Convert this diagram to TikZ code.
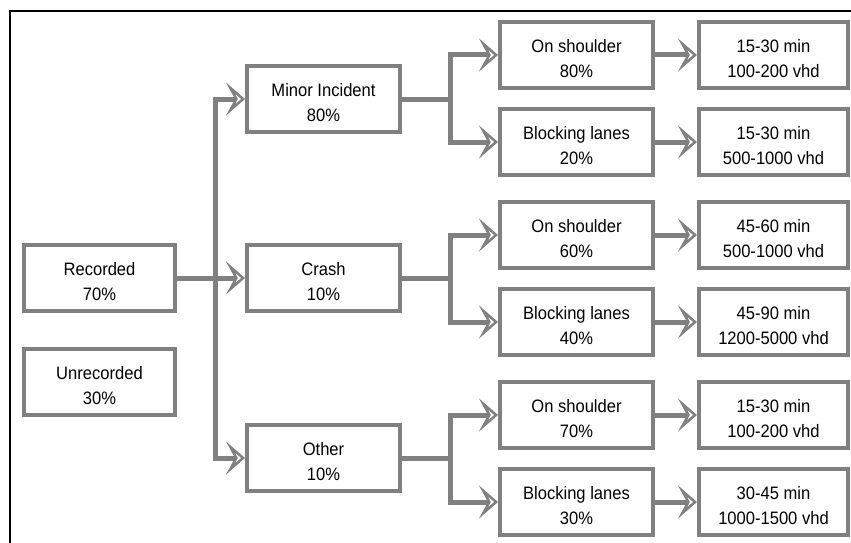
\documentclass[tikz,border=0pt]{standalone}
\usepackage{fontspec}
\setmainfont{Liberation Sans}[FakeStretch=0.92]
\usetikzlibrary{arrows.meta}
\definecolor{boxgray}{HTML}{808080}
\newcommand\twoline[2]{\smash{\raisebox{-9.6pt}{\begin{tabular}{@{}c@{}}#1\\#2\end{tabular}}}}
\begin{document}
\begin{tikzpicture}[x=1pt,y=-1pt,
  box/.style={draw=boxgray, line width=4pt, fill=white,
    inner sep=0pt, minimum height=66pt,
    font=\fontsize{18}{25}\selectfont, text=black},
  boxa/.style={box, minimum width=151pt},
  boxb/.style={box, minimum width=153pt},
  boxd/.style={box, minimum width=149pt},
  conn/.style={draw=boxgray, line width=5pt},
  arr/.style={conn, -{Stealth[open, length=19pt, width=33pt, inset=9pt, line width=4.5pt]}},
  frame/.style={draw=black, line width=1.8pt}]
\useasboundingbox (0,0) rectangle (851,543);
\coordinate (ftl) at (10,11);
\coordinate (ftr) at (851,11);
\coordinate (fbl) at (10,543);
\draw[frame] (ftr) -- (ftl) -- (fbl);

% left column
\node[boxa] (rec) at (99.5,278) {\twoline{Recorded}{70\%}};
\node[boxa] (unrec) at (99.5,382) {\twoline{Unrecorded}{30\%}};
% middle column
\node[boxb] (minor) at (323.5,99) {\twoline{Minor Incident}{80\%}};
\node[boxb] (crash) at (323.5,278) {\twoline{Crash}{10\%}};
\node[boxb] (other) at (323.5,458) {\twoline{Other}{10\%}};
% third column
\node[boxb] (os1) at (576.5,55) {\twoline{On shoulder}{80\%}};
\node[boxb] (bl1) at (576.5,142) {\twoline{Blocking lanes}{20\%}};
\node[boxb] (os2) at (576.5,235) {\twoline{On shoulder}{60\%}};
\node[boxb] (bl2) at (576.5,322) {\twoline{Blocking lanes}{40\%}};
\node[boxb] (os3) at (576.5,415) {\twoline{On shoulder}{70\%}};
\node[boxb] (bl3) at (576.5,502) {\twoline{Blocking lanes}{30\%}};
% fourth column
\node[boxd] (r1) at (773.5,55) {\twoline{15-30 min}{100-200 vhd}};
\node[boxd] (r2) at (773.5,142) {\twoline{15-30 min}{500-1000 vhd}};
\node[boxd] (r3) at (773.5,235) {\twoline{45-60 min}{500-1000 vhd}};
\node[boxd] (r4) at (773.5,322) {\twoline{45-90 min}{1200-5000 vhd}};
\node[boxd] (r5) at (773.5,415) {\twoline{15-30 min}{100-200 vhd}};
\node[boxd] (r6) at (773.5,502) {\twoline{30-45 min}{1000-1500 vhd}};

% trunk
\coordinate (j0) at (215,278);
\draw[arr] (rec.east) -- (crash.west);
\draw[arr] (j0) |- (minor.west);
\draw[arr] (j0) |- (other.west);

% branches
\coordinate (j1) at (450,99);
\coordinate (j2) at (450,278);
\coordinate (j3) at (450,458);
\draw[conn] (minor.east) -- (j1);
\draw[arr] (j1) |- (os1.west);
\draw[arr] (j1) |- (bl1.west);
\draw[conn] (crash.east) -- (j2);
\draw[arr] (j2) |- (os2.west);
\draw[arr] (j2) |- (bl2.west);
\draw[conn] (other.east) -- (j3);
\draw[arr] (j3) |- (os3.west);
\draw[arr] (j3) |- (bl3.west);

% results
\draw[arr] (os1.east) -- (r1.west);
\draw[arr] (bl1.east) -- (r2.west);
\draw[arr] (os2.east) -- (r3.west);
\draw[arr] (bl2.east) -- (r4.west);
\draw[arr] (os3.east) -- (r5.west);
\draw[arr] (bl3.east) -- (r6.west);
\end{tikzpicture}
\end{document}
